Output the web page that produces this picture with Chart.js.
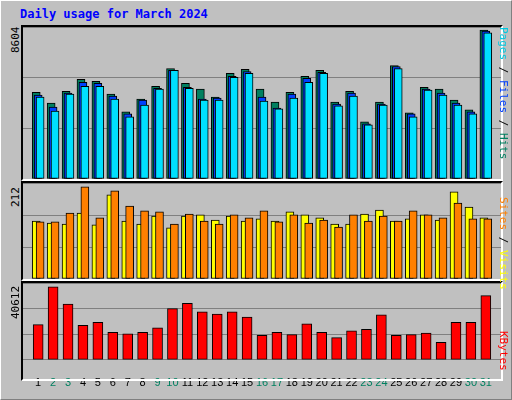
<!DOCTYPE html>
<html>
<head>
<meta charset="utf-8">
<script src="https://cdn.jsdelivr.net/npm/chart.js@4"></script>
<style>
  body { margin: 0; background: #fff; }
  #wrap { position: relative; width: 510px; height: 398px; background: #c0c0c0; overflow: hidden;
          border-top: 1px solid #fff; border-left: 1px solid #fff; border-right: 1px solid #808080; border-bottom: 1px solid #808080; font-family: "DejaVu Sans Mono", monospace; }
  .frame { position: absolute; left: 20px; width: 478px;
           border-top: 2px solid #000; border-left: 2px solid #000; border-right: 2px solid #fff; border-bottom: 2px solid #fff; }
  .frame canvas, .free canvas { display: block; }
  .free { position: absolute; left: 22px; }
  .title { position: absolute; left: 19px; top: 6px; color: #0000ff; font-weight: bold; font-size: 12px; }
  .vl { position: absolute; font-size: 11px; white-space: nowrap; transform-origin: 0 0; }
</style>
</head>
<body>
<div id="wrap">
  <div class="title">Daily usage for March 2024</div>
  <div class="frame" style="top:24px;height:152px"><canvas id="c1"></canvas></div>
  <div class="frame" style="top:180px;height:96px"><canvas id="c2"></canvas></div>
  <div class="free" style="top:282px"><canvas id="c3"></canvas></div>
  <div class="frame" style="top:280px;height:96px;pointer-events:none"></div>
  <div class="vl" style="left:8px;top:52px;transform:rotate(-90deg)">8604</div>
  <div class="vl" style="left:8px;top:206px;transform:rotate(-90deg)">212</div>
  <div class="vl" style="left:8px;top:318px;transform:rotate(-90deg)">40612</div>
  <div class="vl" style="left:509px;top:26px;transform:rotate(90deg)"><span style="color:#00c8e0">Pages</span> / <span style="color:#0040ff">Files</span> / <span style="color:#008060">Hits</span></div>
  <div class="vl" style="left:509px;top:196px;transform:rotate(90deg)"><span style="color:#ff8000">Sites</span> / <span style="color:#ffff00">Visits</span></div>
  <div class="vl" style="left:509px;top:330px;transform:rotate(90deg)"><span style="color:#ff0000">KBytes</span></div>
</div>
<script>
const days = Array.from({length: 31}, (_, i) => i + 1);
const weekend = [2, 3, 9, 10, 16, 17, 23, 24, 30, 31];
const hits  = [5010,4390,5070,5760,5640,4900,3880,4620,5360,6380,5530,5190,4730,6100,6330,5190,4450,5010,5930,6270,4450,5070,3300,4450,6550,3820,5300,5190,4560,3990,8604];
const files = [4850,4160,4960,5590,5530,4790,3760,4560,5240,6270,5300,4620,4670,5930,6210,4730,4100,4900,5810,6160,4330,4960,3190,4330,6500,3760,5190,4960,4390,3880,8550];
const pages = [4730,3930,4900,5360,5360,4620,3590,4270,5190,6270,5240,4560,4560,5870,6100,4500,4050,4670,5590,6100,4220,4790,3130,4270,6380,3590,5130,4850,4270,3760,8450];
const visits = [133,128,126,151,124,193,133,126,144,117,144,147,135,144,133,138,133,154,147,140,126,126,149,158,133,138,147,135,200,165,140];
const sites  = [131,131,151,211,140,202,167,156,154,126,149,133,126,147,140,156,131,147,128,135,119,147,133,144,133,156,147,140,174,138,138];
const kbytes = [19530,40612,30990,19100,20800,15280,14430,15280,17830,28440,31410,26740,25470,26740,23770,13580,15280,14010,19950,15280,12310,16130,16980,25050,13580,14010,14860,9760,20800,20800,35660];
const axisMax = [8780, 220, 42700];

function series(vals, shift) {
  return vals.map((v, i) => ({ x: days[i] + shift, y: v }));
}
function ds(vals, shift, color, w, order) {
  return { data: series(vals, shift), backgroundColor: color, borderColor: '#000', order,
           borderWidth: 1, barThickness: w, grouped: false, borderSkipped: false };
}
function makeChart(id, w, h, datasets, max, showX) {
  const cv = document.getElementById(id);
  cv.width = w; cv.height = h;
  return new Chart(cv, {
    type: 'bar',
    data: { datasets },
    options: {
      responsive: false, animation: false,
      layout: { padding: 0 },
      plugins: { legend: { display: false }, tooltip: { enabled: false } },
      scales: {
        x: { type: 'linear', min: 0.5, max: 31.5, display: showX,
             grid: { display: false }, border: { display: false },
             afterBuildTicks: ax => { ax.ticks = days.map(d => ({ value: d })); },
             ticks: { autoSkip: false, maxRotation: 0, padding: 9,
                      font: { family: 'Liberation Sans', size: 11 },
                      color: c => weekend.includes(c.tick.value) ? '#008060' : '#000' } },
        y: { min: 0, max: max, display: true,
             ticks: { display: false, stepSize: max / 3 },
             grid: { color: '#808080', drawTicks: false, lineWidth: 1 },
             border: { display: false } }
      }
    }
  });
}

makeChart('c1', 478, 152, [
  ds(hits, -0.13, '#008060', 8, 3),
  ds(files, 0, '#0040ff', 8, 2),
  ds(pages, 0.13, '#00e0ff', 8, 1)
], axisMax[0], false);

makeChart('c2', 478, 96, [
  ds(visits, -0.13, '#ffff00', 8, 2),
  ds(sites, 0.13, '#ff8000', 8, 1)
], axisMax[1], false);

makeChart('c3', 478, 116, [
  ds(kbytes, 0, '#ff0000', 10, 1)
], axisMax[2], true);
</script>
</body>
</html>
